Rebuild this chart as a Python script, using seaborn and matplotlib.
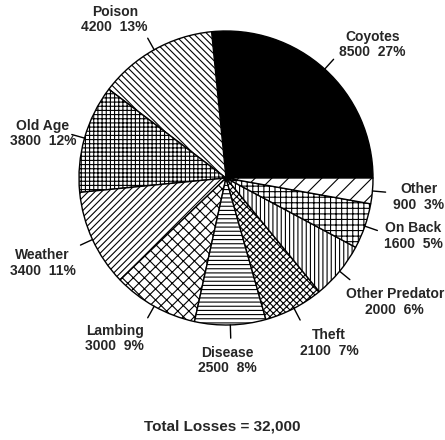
import numpy as np
import matplotlib
matplotlib.use('Agg')
import matplotlib.pyplot as plt
import seaborn as sns

# Data (counter-clockwise from 3 o'clock)
causes = ['Coyotes', 'Poison', 'Old Age', 'Weather', 'Lambing',
          'Disease', 'Theft', 'Other Predator', 'On Back', 'Other']
losses = [8500, 4200, 3800, 3400, 3000, 2500, 2100, 2000, 1600, 900]

# Styling per slice
fills = ['black'] + ['white'] * 9
hatches = ['', '\\' * 5, '+' * 4, '/' * 5, 'x' * 3,
           '-' * 4, 'x' * 5, '|' * 4, '+' * 3, '/' * 2]
# label offsets from leader end, in pixels
offsets = [(39, 14.5), (-33, 18.5), (-29, 1), (-38, -18), (-33, -20.5),
           (-3, -22), (29, -23), (45, -22.5), (36, -5.5), (33, -5)]

sns.set_theme(style='white')
plt.rcParams['font.family'] = ['Liberation Sans', 'DejaVu Sans']
plt.rcParams['hatch.linewidth'] = 0.8

total = sum(losses)

fig = plt.figure(figsize=(4.45, 4.40), dpi=100)
ax = fig.add_axes([79 / 445, 115 / 440, 294 / 445, 294 / 440])

wedges, _ = ax.pie(losses, colors=fills, startangle=0, counterclock=True,
                   wedgeprops=dict(edgecolor='black', linewidth=1.0))
for w, h in zip(wedges, hatches):
    w.set_hatch(h)

for w, name, val, off in zip(wedges, causes, losses, offsets):
    theta = np.deg2rad((w.theta1 + w.theta2) / 2)
    x0, y0 = np.cos(theta), np.sin(theta)
    x1, y1 = 1.09 * x0, 1.09 * y0
    ax.plot([x0, x1], [y0, y1], color='black', lw=1.0, clip_on=False)
    pct = round(100 * val / total)
    ax.annotate(f'{name}\n{val}  {pct}%', xy=(x1, y1), xytext=off,
                textcoords='offset pixels', ha='center', va='center',
                fontsize=10, fontweight='bold', linespacing=1.12,
                annotation_clip=False)

ax.set_xlim(-1, 1)
ax.set_ylim(-1, 1)
ax.set_aspect('auto')
ax.axis('off')

fig.text(222 / 445, 1 - 426 / 440, f'Total Losses = {total:,}',
         ha='center', va='center', fontsize=11, fontweight='bold')

fig.savefig('out.png', dpi=100, facecolor='white')
